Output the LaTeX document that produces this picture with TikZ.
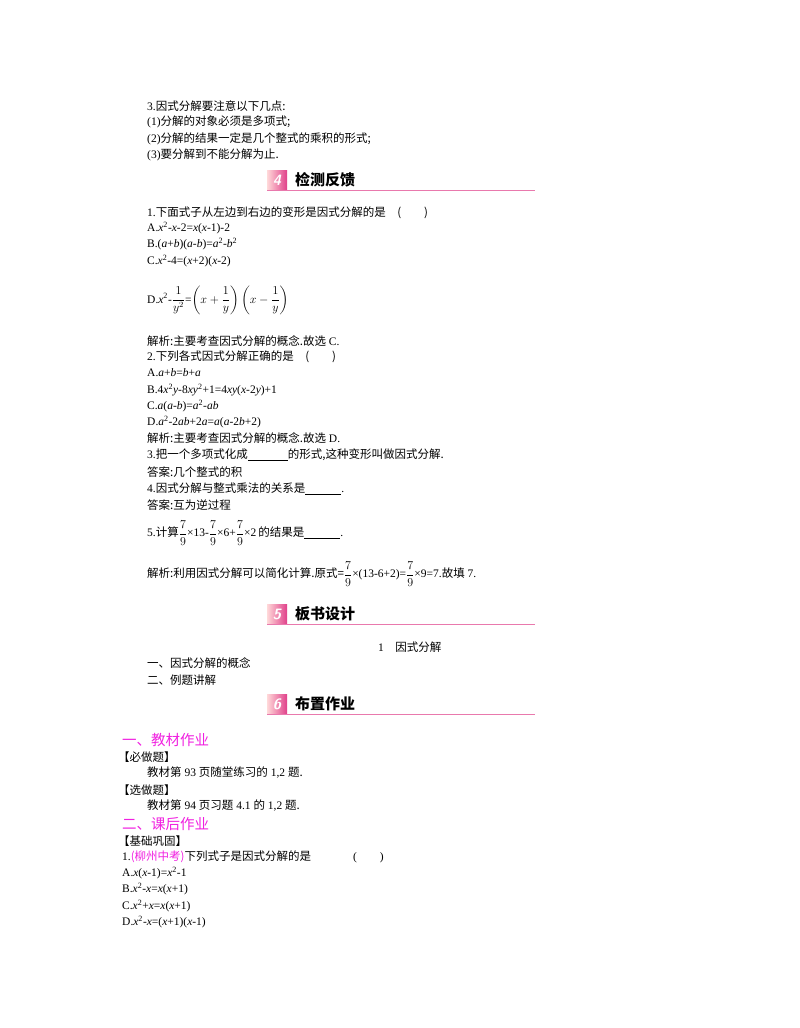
\documentclass[tikz,border=0pt]{standalone}
\usepackage{fontspec}
\usepackage{amsmath}
\setmainfont{Liberation Serif}
\newfontfamily\zh{Noto Sans CJK SC}
\newcommand\Z[1]{{\zh #1}}
\newcommand\I[1]{\textit{#1}}
\newcommand\sq{\textsuperscript{2}}
\definecolor{mag}{HTML}{F020E0}
\definecolor{hd}{HTML}{E0408A}
\begin{document}
\begin{tikzpicture}[x=1pt,y=-1pt,
  t/.style={anchor=west,inner sep=0pt,font=\fontsize{11.5}{13}\selectfont},
  h/.style={anchor=west,inner sep=0pt,font=\zh\bfseries\fontsize{15}{17}\selectfont},
  m/.style={anchor=west,inner sep=0pt,text=mag,font=\zh\fontsize{14.5}{17}\selectfont}]
\useasboundingbox (0,0) rectangle (800,1028);
\newcommand\header[4]{%
  \shade[left color=pink!60,right color=hd] (267,#1-10) rectangle (287,#1+10);
  \node[inner sep=0pt,text=white,font=\sffamily\bfseries\itshape\fontsize{15}{15}\selectfont] (n#3) at (277,#1) {#2};
  \node[h] (h#3) at (295,#1) {#4};
  \draw[hd!70,line width=0.8pt] (267,#1+10) -- (535,#1+10);}
\node[t] (a1) at (147,106) {3.\Z{因式分解要注意以下几点:}};
\node[t] (a2) at (147,122) {(1)\Z{分解的对象必须是多项式;}};
\node[t] (a3) at (147,139) {(2)\Z{分解的结果一定是几个整式的乘积的形式;}};
\node[t] (a4) at (147,155) {(3)\Z{要分解到不能分解为止.}};
\header{180}{4}{4}{检测反馈}
\node[t] (b1) at (147,213) {1.\Z{下面式子从左边到右边的变形是因式分解的是\quad(\qquad)}};
\node[t] (b2) at (147,228) {A.\I{x}\sq-\I{x}-2=\I{x}(\I{x}-1)-2};
\node[t] (b3) at (147,244) {B.(\I{a}+\I{b})(\I{a}-\I{b})=\I{a}\sq-\I{b}\sq};
\node[t] (b4) at (147,261) {C.\I{x}\sq-4=(\I{x}+2)(\I{x}-2)};
\node[t] (b5) at (147,300) {D.\I{x}\sq-$\dfrac{1}{y^2}$=$\left(x+\dfrac{1}{y}\right)\left(x-\dfrac{1}{y}\right)$};
\node[t] (b6) at (147,341) {\Z{解析:主要考查因式分解的概念.故选} C.};
\node[t] (c1) at (147,357) {2.\Z{下列各式因式分解正确的是\quad(\qquad)}};
\node[t] (c2) at (147,373) {A.\I{a}+\I{b}=\I{b}+\I{a}};
\node[t] (c3) at (147,390) {B.4\I{x}\sq\I{y}-8\I{xy}\sq+1=4\I{xy}(\I{x}-2\I{y})+1};
\node[t] (c4) at (147,406) {C.\I{a}(\I{a}-\I{b})=\I{a}\sq-\I{ab}};
\node[t] (c5) at (147,422) {D.\I{a}\sq-2\I{ab}+2\I{a}=\I{a}(\I{a}-2\I{b}+2)};
\node[t] (c6) at (147,438) {\Z{解析:主要考查因式分解的概念.故选} D.};
\node[t] (c7) at (147,455) {3.\Z{把一个多项式化成}\underline{\hspace{40pt}}\Z{的形式,这种变形叫做因式分解.}};
\node[t] (c8) at (147,472) {\Z{答案:几个整式的积}};
\node[t] (c9) at (147,489) {4.\Z{因式分解与整式乘法的关系是}\underline{\hspace{36pt}}.};
\node[t] (c10) at (147,505) {\Z{答案:互为逆过程}};
\node[t] (c11) at (147,533) {5.\Z{计算}$\dfrac{7}{9}$×13-$\dfrac{7}{9}$×6+$\dfrac{7}{9}$×2\,\Z{的结果是}\underline{\hspace{36pt}}.};
\node[t] (c12) at (147,574) {\Z{解析:利用因式分解可以简化计算.原式=}$\dfrac{7}{9}$×(13-6+2)=$\dfrac{7}{9}$×9=7.\Z{故填} 7.};
\header{614}{5}{5}{板书设计}
\node[t] (d1) at (378,647) {1\quad\Z{因式分解}};
\node[t] (d2) at (147,663) {\Z{一、因式分解的概念}};
\node[t] (d3) at (147,680) {\Z{二、例题讲解}};
\header{704}{6}{6}{布置作业}
\node[m] (e1) at (122,740) {一、教材作业};
\node[t] (e2) at (118,757) {\Z{【必做题】}};
\node[t] (e3) at (147,773) {\Z{教材第} 93 \Z{页随堂练习的} 1,2 \Z{题.}};
\node[t] (e4) at (118,790) {\Z{【选做题】}};
\node[t] (e5) at (147,806) {\Z{教材第} 94 \Z{页习题} 4.1 \Z{的} 1,2 \Z{题.}};
\node[m] (e6) at (122,824) {二、课后作业};
\node[t] (e7) at (118,841) {\Z{【基础巩固】}};
\node[t] (e8) at (122,857) {1.\textcolor{mag}{\Z{(柳州中考)}}\Z{下列式子是因式分解的是}\hspace{42pt}(\qquad)};
\node[t] (e9) at (122,873) {A.\I{x}(\I{x}-1)=\I{x}\sq-1};
\node[t] (e10) at (122,889) {B.\I{x}\sq-\I{x}=\I{x}(\I{x}+1)};
\node[t] (e11) at (122,906) {C.\I{x}\sq+\I{x}=\I{x}(\I{x}+1)};
\node[t] (e12) at (122,922) {D.\I{x}\sq-\I{x}=(\I{x}+1)(\I{x}-1)};
\end{tikzpicture}
\end{document}
